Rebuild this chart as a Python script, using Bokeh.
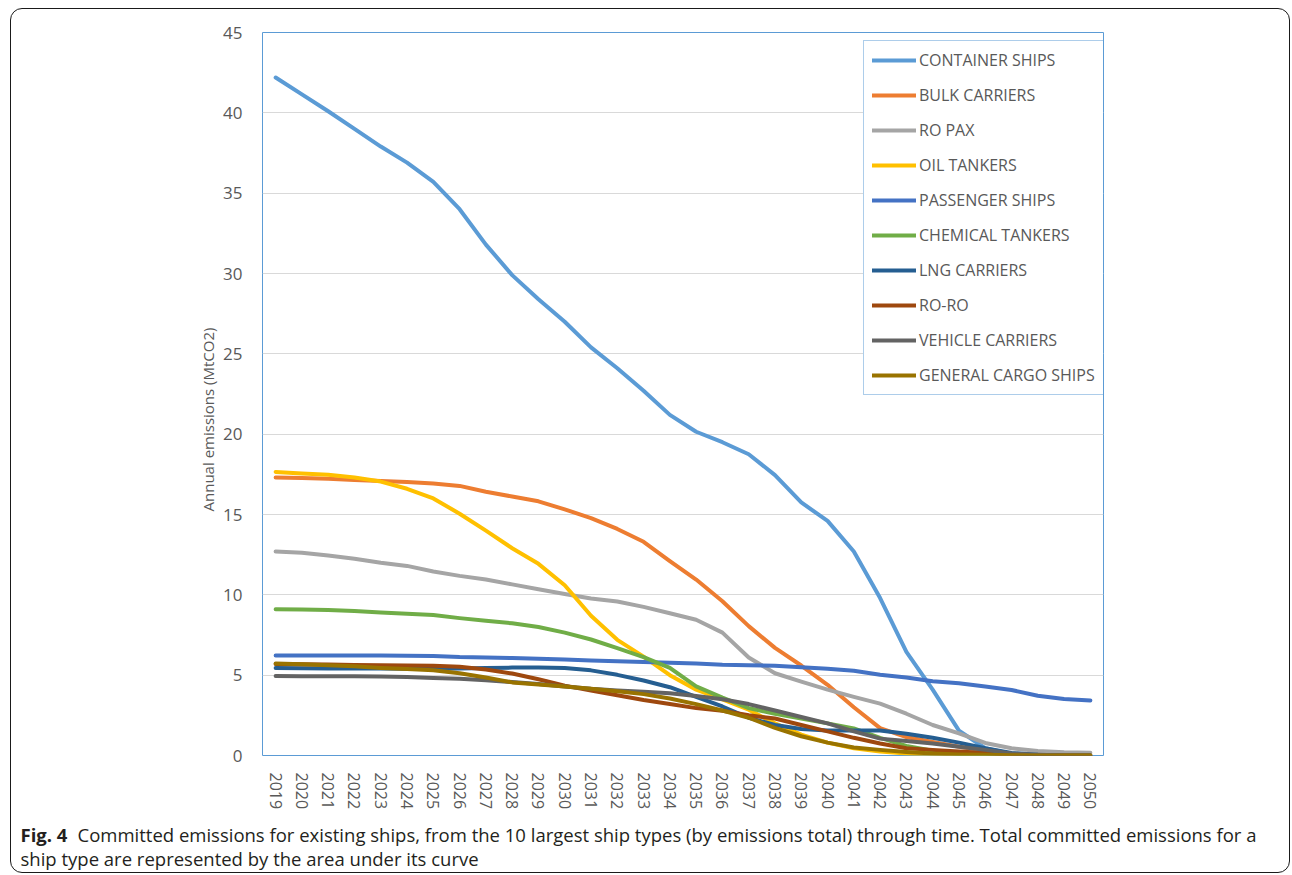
from math import pi
from bokeh.plotting import figure
from bokeh.models import (FactorRange, Range1d, SingleIntervalTicker, Legend,
                          LegendItem, Label, InlineStyleSheet)
from bokeh.embed import file_html
from bokeh.resources import INLINE

# Annual committed emissions (MtCO2) per ship type, 2019-2050
years = [str(y) for y in range(2019, 2051)]

container_ships = [42.2, 41.15, 40.1, 39.0, 37.9, 36.9, 35.7, 34.0, 31.8, 29.9,
                   28.4, 27.0, 25.4, 24.1, 22.7, 21.2, 20.15, 19.5, 18.75, 17.45,
                   15.75, 14.6, 12.7, 9.8, 6.45, 4.1, 1.55, 0.45, 0.1, 0.0, 0.0, 0.0]
bulk_carriers = [17.3, 17.27, 17.22, 17.15, 17.08, 17.02, 16.93, 16.78, 16.42, 16.12,
                 15.82, 15.32, 14.78, 14.1, 13.3, 12.1, 10.95, 9.6, 8.05, 6.7,
                 5.6, 4.4, 3.0, 1.7, 1.15, 0.85, 0.55, 0.3, 0.1, 0.02, 0.0, 0.0]
ro_pax = [12.7, 12.62, 12.45, 12.25, 12.0, 11.8, 11.45, 11.18, 10.95, 10.65,
          10.35, 10.05, 9.77, 9.58, 9.25, 8.85, 8.45, 7.65, 6.1, 5.12,
          4.6, 4.1, 3.65, 3.23, 2.6, 1.9, 1.38, 0.78, 0.45, 0.28, 0.2, 0.17]
oil_tankers = [17.65, 17.55, 17.47, 17.3, 17.05, 16.6, 16.0, 15.05, 14.0, 12.9,
               11.93, 10.6, 8.7, 7.2, 6.15, 5.0, 4.1, 3.5, 2.85, 2.0,
               1.3, 0.8, 0.45, 0.25, 0.12, 0.05, 0.02, 0.0, 0.0, 0.0, 0.0, 0.0]
passenger_ships = [6.22, 6.22, 6.22, 6.22, 6.22, 6.21, 6.2, 6.13, 6.1, 6.07,
                   6.02, 5.97, 5.92, 5.87, 5.82, 5.77, 5.72, 5.65, 5.62, 5.58,
                   5.5, 5.4, 5.28, 5.02, 4.85, 4.62, 4.5, 4.3, 4.08, 3.72, 3.52, 3.43]
chemical_tankers = [9.1, 9.08, 9.05, 9.0, 8.9, 8.83, 8.75, 8.55, 8.38, 8.23,
                    8.0, 7.65, 7.22, 6.68, 6.12, 5.45, 4.3, 3.6, 2.95, 2.6,
                    2.3, 2.0, 1.68, 1.1, 0.6, 0.3, 0.1, 0.05, 0.0, 0.0, 0.0, 0.0]
lng_carriers = [5.45, 5.43, 5.42, 5.42, 5.42, 5.4, 5.4, 5.42, 5.45, 5.47,
                5.48, 5.45, 5.3, 5.02, 4.67, 4.25, 3.65, 3.05, 2.35, 1.9,
                1.65, 1.55, 1.55, 1.55, 1.35, 1.1, 0.8, 0.45, 0.15, 0.05, 0.0, 0.0]
ro_ro = [5.7, 5.68, 5.66, 5.64, 5.62, 5.6, 5.58, 5.52, 5.35, 5.1,
         4.75, 4.35, 4.05, 3.75, 3.45, 3.2, 2.95, 2.78, 2.5, 2.3,
         1.9, 1.5, 1.1, 0.75, 0.45, 0.35, 0.25, 0.15, 0.05, 0.0, 0.0, 0.0]
vehicle_carriers = [4.95, 4.94, 4.94, 4.93, 4.91, 4.88, 4.83, 4.77, 4.68, 4.57,
                    4.45, 4.3, 4.15, 4.05, 3.97, 3.87, 3.7, 3.5, 3.2, 2.8,
                    2.4, 2.0, 1.5, 1.05, 0.9, 0.75, 0.55, 0.35, 0.12, 0.05, 0.0, 0.0]
general_cargo = [5.72, 5.68, 5.62, 5.55, 5.45, 5.38, 5.3, 5.12, 4.85, 4.55,
                 4.42, 4.3, 4.15, 4.0, 3.82, 3.55, 3.2, 2.8, 2.35, 1.72,
                 1.2, 0.8, 0.5, 0.35, 0.22, 0.12, 0.07, 0.04, 0.02, 0.0, 0.0, 0.0]

series = [
    ("CONTAINER SHIPS", container_ships, "#5B9BD5"),
    ("BULK CARRIERS", bulk_carriers, "#ED7D31"),
    ("RO PAX", ro_pax, "#A5A5A5"),
    ("OIL TANKERS", oil_tankers, "#FFC000"),
    ("PASSENGER SHIPS", passenger_ships, "#4472C4"),
    ("CHEMICAL TANKERS", chemical_tankers, "#70AD47"),
    ("LNG CARRIERS", lng_carriers, "#255E91"),
    ("RO-RO", ro_ro, "#9E480E"),
    ("VEHICLE CARRIERS", vehicle_carriers, "#636363"),
    ("GENERAL CARGO SHIPS", general_cargo, "#997300"),
]

FONT = "Open Sans"
TEXT_GREY = "#595959"
CAPTION_COLOR = "#231F20"

W, H = 1292, 875
FRAME_L, FRAME_R, FRAME_T, FRAME_B = 262, 1103, 32, 755
Y_MAX = 45

# page pixel -> plot coordinate helpers (x is the synthetic factor coordinate)
def px_x(px):
    return (px - FRAME_L) * len(years) / (FRAME_R - FRAME_L)

def px_y(py):
    return (FRAME_B - py) * Y_MAX / (FRAME_B - FRAME_T)

# rounded outline drawn around the whole figure and caption
frame_css = InlineStyleSheet(css="""
:host { position: relative; }
:host::after {
  content: "";
  position: absolute;
  left: 10px; top: 8px; width: 1280px; height: 865px;
  border: 1.5px solid #1a1a1a;
  border-radius: 12px;
  pointer-events: none;
  box-sizing: border-box;
}
""")

p = figure(width=W, height=H, x_range=FactorRange(*years, range_padding=0),
           y_range=Range1d(0, Y_MAX), output_backend="svg", toolbar_location=None,
           min_border_left=FRAME_L, min_border_right=W - FRAME_R,
           min_border_top=FRAME_T, min_border_bottom=H - FRAME_B,
           stylesheets=[frame_css])

p.outline_line_color = "#5B9BD5"
p.outline_line_width = 1
p.background_fill_color = "white"
p.border_fill_color = "white"

p.xgrid.grid_line_color = None
p.ygrid.grid_line_color = "#D9D9D9"
p.ygrid.grid_line_width = 1

p.yaxis.ticker = SingleIntervalTicker(interval=5)
for ax in (p.xaxis[0], p.yaxis[0]):
    ax.axis_line_color = None
    ax.major_tick_line_color = None
    ax.minor_tick_line_color = None
    ax.major_label_text_font = FONT
    ax.major_label_text_color = TEXT_GREY

p.yaxis.major_label_text_font_size = "17px"
p.yaxis.major_label_standoff = 14

p.xaxis.major_label_text_font_size = "16px"
p.xaxis.major_label_orientation = "vertical"
p.xaxis.major_label_standoff = 11

items = []
for name, vals, color in series:
    r = p.line(x=years, y=vals, line_color=color, line_width=4,
               line_cap="round", line_join="round")
    items.append(LegendItem(label=name, renderers=[r]))

legend = Legend(items=items, location=(863 - FRAME_L, FRAME_B - 395),
                glyph_width=44, glyph_height=20, label_height=20,
                label_standoff=3, spacing=13, padding=8, margin=0,
                label_text_font=FONT, label_text_font_size="16px",
                label_text_color=TEXT_GREY,
                border_line_color="#5B9BD5", border_line_width=1,
                background_fill_color="white", background_fill_alpha=1)
p.add_layout(legend, "center")

# y-axis title, placed in the left panel
p.add_layout(Label(x=px_x(207), y=px_y(419), text="Annual emissions (MtCO2)",
                   angle=pi / 2, text_align="center", text_baseline="middle",
                   text_font=FONT, text_font_size="15px", text_color=TEXT_GREY),
             "left")

# figure caption
p.add_layout(Label(x=px_x(20), y=px_y(834), text="Fig. 4",
                   text_font=FONT, text_font_size="18.5px", text_font_style="bold",
                   text_color=CAPTION_COLOR, text_baseline="middle"), "right")
p.add_layout(Label(x=px_x(77), y=px_y(834),
                   text="Committed emissions for existing ships, from the 10 largest ship "
                        "types (by emissions total) through time. Total committed emissions for a",
                   text_font=FONT, text_font_size="18.5px", text_color=CAPTION_COLOR,
                   text_baseline="middle"), "below")
p.add_layout(Label(x=px_x(20), y=px_y(858),
                   text="ship type are represented by the area under its curve",
                   text_font=FONT, text_font_size="18.5px", text_color=CAPTION_COLOR,
                   text_baseline="middle"), "above")

open("out.html", "w").write(file_html(p, INLINE))
